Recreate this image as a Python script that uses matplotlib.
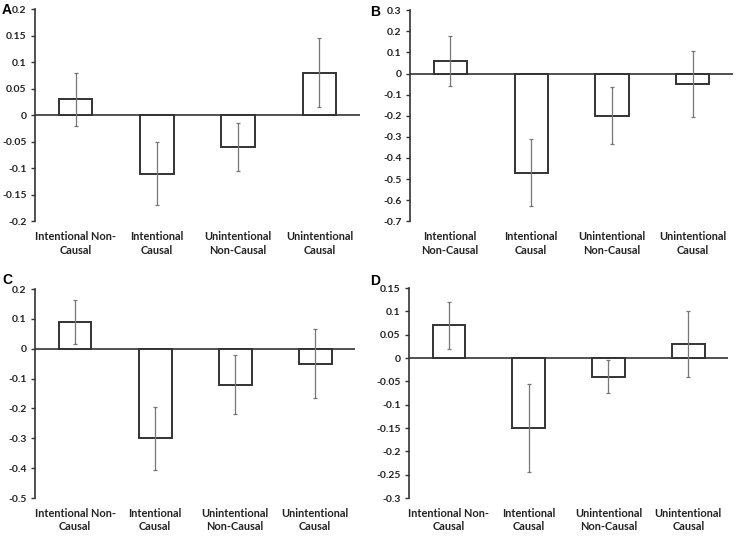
import matplotlib.pyplot as plt
import numpy as np

plt.rcParams['font.family'] = ['Lato', 'DejaVu Sans']

cats_a = ["Intentional Non-\nCausal", "Intentional\nCausal", "Unintentional\nNon-Causal", "Unintentional\nCausal"]
cats_b = ["Intentional\nNon-Causal", "Intentional\nCausal", "Unintentional\nNon-Causal", "Unintentional\nCausal"]

mean_a = [0.03, -0.11, -0.06, 0.08]
err_a = [0.05, 0.06, 0.045, 0.065]
mean_b = [0.06, -0.47, -0.20, -0.05]
err_b = [0.12, 0.16, 0.135, 0.155]
mean_c = [0.09, -0.30, -0.12, -0.05]
err_c = [0.075, 0.105, 0.10, 0.115]
mean_d = [0.07, -0.15, -0.04, 0.03]
err_d = [0.05, 0.095, 0.035, 0.07]

fig = plt.figure(figsize=(7.37, 5.37), dpi=100)

def panel(rect, letter, lx, ly, m, e, cats, ylim, step):
    ax = fig.add_axes(rect)
    x = np.arange(1, 5)
    ax.bar(x, m, width=0.41, color='white', edgecolor='#333333', linewidth=1.4, zorder=2)
    ax.errorbar(x, m, yerr=e, fmt='none', ecolor='#777777', elinewidth=0.9,
                capsize=1.5, capthick=0.9, zorder=3)
    ax.axhline(0, color='#333333', linewidth=1.2, zorder=1)
    ax.set_xlim(0.5, 4.5)
    ax.set_ylim(*ylim)
    ticks = np.arange(ylim[0], ylim[1] + step / 2, step)
    ax.set_yticks(ticks)
    labs = ['0' if abs(t) < 1e-9 else '%g' % round(t, 3) for t in ticks]
    ax.set_yticklabels(labs, fontsize=7.5, fontweight='bold', color='#222222')
    ax.set_xticks(x)
    ax.set_xticklabels(cats, fontsize=7.9, fontweight='bold', linespacing=1.3, color='#222222')
    ax.tick_params(axis='x', length=0, pad=7)
    ax.tick_params(axis='y', length=3, width=1, color='#333333', pad=3)
    for s in ['top', 'right', 'bottom']:
        ax.spines[s].set_visible(False)
    ax.spines['left'].set_color('#333333')
    ax.spines['left'].set_linewidth(1.2)
    fig.text(lx / 737, 1 - ly / 537, letter, fontsize=10, fontweight='bold',
             va='center', ha='left', family=['Liberation Sans'])
    return ax

panel([0.0475, 0.588, 0.441, 0.395], 'A', 2, 10, mean_a, err_a, cats_a, (-0.2, 0.2), 0.05)
panel([0.556, 0.588, 0.439, 0.393], 'B', 370, 12, mean_b, err_b, cats_b, (-0.7, 0.3), 0.1)
panel([0.0475, 0.0726, 0.4345, 0.389], 'C', 2, 280, mean_c, err_c, cats_a, (-0.5, 0.2), 0.1)
panel([0.555, 0.0726, 0.433, 0.391], 'D', 370, 281, mean_d, err_d, cats_a, (-0.3, 0.15), 0.05)

fig.savefig('out.png', dpi=100)
